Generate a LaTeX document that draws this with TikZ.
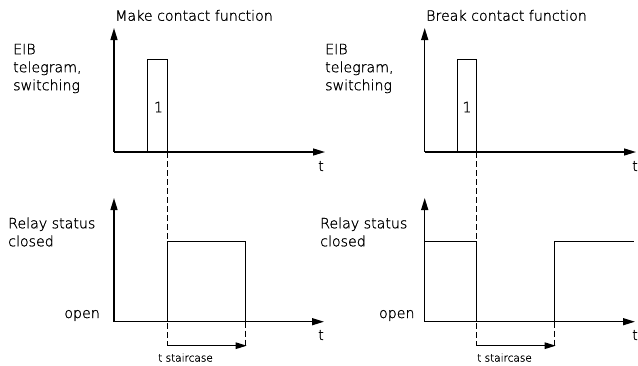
\documentclass[tikz,border=0pt]{standalone}
\usepackage{fontspec}
\setmainfont[FakeBold=1.2]{DejaVu Sans ExtraLight}
\usetikzlibrary{arrows.meta}
\begin{document}
\begin{tikzpicture}[x=1pt,y=-1pt,
  axis/.style={line width=1.4pt,-{Triangle[length=12pt,width=7pt]}},
  sig/.style={line width=0.9pt},
  guide/.style={line width=0.8pt,dash pattern=on 6pt off 3pt},
  span/.style={line width=1.3pt,-{Triangle[length=11pt,width=6.5pt]}},
  lbl/.style={inner sep=0pt,font=\fontsize{14.2}{18}\selectfont},
  small/.style={inner sep=0pt,font=\fontsize{10.5}{12}\selectfont}]
\useasboundingbox (0,0) rectangle (638,365);
% ---------- left panels ----------
\coordinate (oA) at (114,152);
\coordinate (yA) at (114,28);
\coordinate (xA) at (325,152);
\coordinate (oB) at (114,321.7);
\coordinate (yB) at (114,198);
\coordinate (xB) at (324,321.7);
\coordinate (pA1) at (147.7,152);
\coordinate (pA2) at (147.7,59.3);
\coordinate (pA3) at (167.3,59.3);
\coordinate (pA4) at (167.3,152);
\coordinate (dA1) at (167.3,345.7);
\coordinate (rA1) at (167.3,321.7);
\coordinate (rA2) at (167.3,241.3);
\coordinate (rA3) at (245.7,241.3);
\coordinate (rA4) at (245.7,321.7);
\coordinate (dA2) at (245.7,345.7);
\coordinate (sA) at (246.7,345.7);
\draw[guide] (pA4) -- (dA1);
\draw[guide] (rA4) -- (dA2);
\draw[axis] (oA) -- (yA);
\draw[axis] (oA) -- (xA);
\draw[axis] (oB) -- (yB);
\draw[axis] (oB) -- (xB);
\draw[sig] (pA1) -- (pA2) -- (pA3) -- (pA4);
\draw[sig] (rA1) -- (rA2) -- (rA3) -- (rA4);
\draw[span] (dA1) -- (sA);
\node[lbl,anchor=base west] (tA) at (115,20.7) {Make contact function};
\node[lbl,anchor=west,align=left] (eA) at (13,68.5) {EIB\\telegram,\\switching};
\node[lbl] (oneA) at (158.5,107) {1};
\node[lbl] (tA1) at (321,166) {t};
\node[lbl,anchor=west,align=left] (rsA) at (8,232) {Relay status\\closed};
\node[lbl,anchor=east] (opA) at (100,315.5) {open};
\node[lbl] (tA2) at (321,335) {t};
\node[small,anchor=base west] (stA) at (158,361.5) {t staircase};
% ---------- right panels ----------
\coordinate (oC) at (424.7,152);
\coordinate (yC) at (424.7,28);
\coordinate (xC) at (636,152);
\coordinate (oD) at (424.7,321.7);
\coordinate (yD) at (424.7,198);
\coordinate (xD) at (635,321.7);
\coordinate (pC1) at (457,152);
\coordinate (pC2) at (457,59.3);
\coordinate (pC3) at (476.7,59.3);
\coordinate (pC4) at (476.7,152);
\coordinate (dC1) at (476.7,345.7);
\coordinate (rC1) at (424.7,241.3);
\coordinate (rC2) at (476.7,241.3);
\coordinate (rC3) at (476.7,321.7);
\coordinate (rC4) at (554.7,321.7);
\coordinate (rC5) at (554.7,241.3);
\coordinate (rC6) at (634,241.3);
\coordinate (dC2) at (554.7,345.7);
\coordinate (sC) at (555.7,345.7);
\draw[guide] (pC4) -- (dC1);
\draw[guide] (rC4) -- (dC2);
\draw[axis] (oC) -- (yC);
\draw[axis] (oC) -- (xC);
\draw[axis] (oD) -- (yD);
\draw[axis] (oD) -- (xD);
\draw[sig] (pC1) -- (pC2) -- (pC3) -- (pC4);
\draw[sig] (rC1) -- (rC2) -- (rC3);
\draw[sig] (rC4) -- (rC5) -- (rC6);
\draw[span] (dC1) -- (sC);
\node[lbl,anchor=base west] (tC) at (426,20.7) {Break contact function};
\node[lbl,anchor=west,align=left] (eC) at (325,68.5) {EIB\\telegram,\\switching};
\node[lbl] (oneC) at (467,107) {1};
\node[lbl] (tC1) at (635,166) {t};
\node[lbl,anchor=west,align=left] (rsC) at (320,232) {Relay status\\closed};
\node[lbl,anchor=east] (opC) at (414.7,315.5) {open};
\node[lbl] (tC2) at (635,335) {t};
\node[small,anchor=base west] (stC) at (477,361.5) {t staircase};
\end{tikzpicture}
\end{document}
